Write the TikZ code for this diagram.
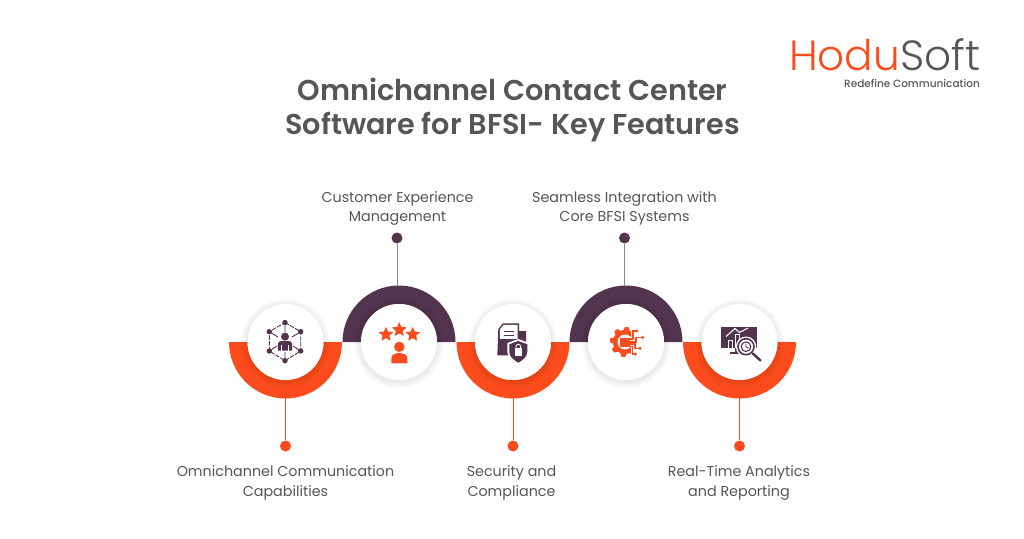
\documentclass[tikz,border=0pt]{standalone}
\usepackage{fontspec}
\setmainfont{Poppins}
\newfontfamily\titlefont{Poppins SemiBold}
\newfontfamily\logofont{Poppins Light}
\newfontfamily\labelfont{Poppins}
\newfontfamily\tagfont{Poppins Medium}
\definecolor{accent}{HTML}{FC4C1D}
\definecolor{plum}{HTML}{53344E}
\definecolor{ink}{HTML}{565656}
\tikzset{
  x=1pt,y=-1pt,
  title/.style={font=\titlefont\fontsize{28.7}{34}\selectfont,text=ink,align=center,inner sep=0},
  caption/.style={font=\labelfont\fontsize{14.3}{19.4}\selectfont,text=ink,align=center,inner sep=0},
  stem/.style={line width=1pt},
  dot/.style={circle,inner sep=0,minimum size=11pt},
  wire/.style={line width=0.9pt,draw=plum},
  trace/.style={line width=1.1pt,draw=accent},
}
% half ring: centre, direction of the bulge (-1 down, +1 up), colour
\newcommand{\halfring}[3]{%
  \fill[#3] (#1-56.5,342) arc[start angle=180,delta angle=#2*180,x radius=56.5,y radius=56.5]
     -- (#1+38,342) arc[start angle=0,delta angle=-#2*180,x radius=38,y radius=38] -- cycle;}
% white disc with a soft halo
\newcommand{\halodisc}[1]{%
  \foreach \r in {45,44,43,42,41,40,39}{\fill[black,opacity=.012] (#1,343.5) circle[radius=\r];}
  \fill[white] (#1,342) circle[radius=38];}
% five-pointed star: x, y, radius
\newcommand{\starmark}[3]{%
  \fill[accent] plot[samples at={0,...,9},variable=\k]
    ({#1+(mod(\k,2)==0?#3:0.48*#3)*sin(36*\k)},{#2-(mod(\k,2)==0?#3:0.48*#3)*cos(36*\k)}) -- cycle;}
\begin{document}
\begin{tikzpicture}
\useasboundingbox (0,0) rectangle (1024,538);
\fill[white] (0,0) rectangle (1024,538);

% logo
\node[anchor=base west,inner sep=0,font=\logofont\fontsize{42.2}{42}\selectfont] (logo) at (789,70)
  {\textcolor{accent}{Hodu}\textcolor{ink}{Soft}};
\node[anchor=base east,inner sep=0,font=\tagfont\fontsize{10.5}{12}\selectfont,text=ink] (tag) at (980,87) {Redefine Communication};

% heading
\node[title] (head) at (512.5,110.5) {Omnichannel Contact Center\\Software for BFSI- Key Features};

% rings
\halfring{285.5}{-1}{accent}
\halfring{399}{1}{plum}
\halfring{513}{-1}{accent}
\halfring{626}{1}{plum}
\halfring{739.5}{-1}{accent}

\halodisc{285.5}\halodisc{399}\halodisc{513}\halodisc{626}\halodisc{739.5}

% leaders
\node[dot,fill=accent] (d1) at (285.5,446) {};
\node[dot,fill=plum] (d2) at (397,238) {};
\node[dot,fill=accent] (d3) at (513,446) {};
\node[dot,fill=plum] (d4) at (624.5,238) {};
\node[dot,fill=accent] (d5) at (739.5,446) {};
\coordinate (r1) at (285.5,398);
\coordinate (r2) at (397,286);
\coordinate (r3) at (513,398);
\coordinate (r4) at (624.5,286);
\coordinate (r5) at (739.5,398);
\draw[stem,color=accent] (r1)--(d1);
\draw[stem,color=ink!70] (r2)--(d2);
\draw[stem,color=accent] (r3)--(d3);
\draw[stem,color=ink!70] (r4)--(d4);
\draw[stem,color=accent] (r5)--(d5);

% captions
\node[caption] (c1) at (285.5,483) {Omnichannel Communication\\Capabilities};
\node[caption] (c2) at (397.5,208.5) {Customer Experience\\Management};
\node[caption] (c3) at (511.5,483) {Security and\\Compliance};
\node[caption] (c4) at (624.5,208.5) {Seamless Integration with\\Core BFSI Systems};
\node[caption] (c5) at (739,483) {Real-Time Analytics\\and Reporting};

% icon: person in a network cube
\draw[wire,dash pattern=on 4.5pt off 1.2pt]
  (285,322.5)--(300.7,331.7)--(300.7,351)--(285,360.7)--(269.3,351)--(269.3,331.7)--cycle;
\draw[wire] (285,322.5)--(285,332) (285,352)--(285,360.7)
  (269.3,331.7)--(278,337) (300.7,331.7)--(292,337)
  (269.3,351)--(277,346) (300.7,351)--(293,346);
\fill[plum] (285,336.6) circle[radius=4];
\fill[plum] (277.8,350.5) -- (277.8,344) .. controls (277.8,341.5) and (280,341) .. (282,341)
  -- (288,341) .. controls (290,341) and (292.2,341.5) .. (292.2,344) -- (292.2,350.5) -- cycle;
\draw[white,line width=.6pt] (281.3,345)--(281.3,350.5) (288.7,345)--(288.7,350.5);
\foreach \px/\py in {285/322.5,300.7/331.7,300.7/351,285/360.7,269.3/351,269.3/331.7}
  \fill[plum] (\px,\py) circle[radius=2.7];

% icon: rated customer
\starmark{386}{334.5}{7.6}
\starmark{399.3}{329.8}{7.6}
\starmark{412.7}{334.5}{7.6}
\fill[accent] (399.3,346.8) circle[radius=5.2];
\fill[accent] (391.3,363.3) -- (391.3,359) .. controls (391.3,355) and (394,353.2) .. (397,353.2)
  -- (401.6,353.2) .. controls (404.6,353.2) and (407.3,355) .. (407.3,359) -- (407.3,363.3) -- cycle;

% icon: secured document
\fill[plum] (498.3,329) -- (503,323.3) -- (519,323.3) -- (519,331) -- (526,331) -- (526,355.3) -- (497.3,355.3) -- cycle;
\fill[white] (499.8,329.5) -- (503.6,324.8) -- (517.5,324.8) -- (517.5,338.8) -- (499.8,338.8) -- cycle;
\draw[plum,line width=1pt] (503.5,331.3)--(514,331.3) (503.5,335)--(514,335);
\fill[white] (507.4,343) -- (518.3,339) -- (529.2,343) -- (529.2,352) .. controls (529.2,358) and (523,362) .. (518.3,364.8)
  .. controls (513.6,362) and (507.4,358) .. (507.4,352) -- cycle;
\fill[plum] (509.3,344.3) -- (518.3,341) -- (527.3,344.3) -- (527.3,352) .. controls (527.3,357) and (522,360.5) .. (518.3,362.7)
  .. controls (514.6,360.5) and (509.3,357) .. (509.3,352) -- cycle;
\fill[white] (514.5,348.3) rectangle (522.1,355.5);
\draw[white,line width=.9pt] (516,348.5) -- (516,346.5) arc[start angle=180,delta angle=180,radius=2.3] -- (520.6,348.5);

% icon: gear with circuit traces
\fill[accent] plot[samples at={0,...,47},variable=\k]
  ({625+(mod(\k,6)<3?15:12)*cos(7.5*\k)},{342+(mod(\k,6)<3?15:12)*sin(7.5*\k)}) -- cycle;
\fill[white] (625,342) circle[radius=7.5];
\fill[white] (631,325) rectangle (642,359);
\fill[accent] (620.3,337.8) rectangle (630,347.4);
\draw[trace] (630,339)--(633,339)--(633,331)--(636.7,331);
\draw[trace] (628,332)--(631,332) (630,342)--(636,342)--(636,337.3)--(642.7,337.3);
\draw[trace] (630,344)--(635,344)--(635,348.3)--(640,348.3);
\draw[trace] (630,346.5)--(632.5,346.5)--(632.5,354)--(635,354);
\foreach \px/\py in {636.7/331,642.7/337.3,640/348.3,635.5/354}
  \fill[accent] (\px,\py) circle[radius=1.7];

% icon: analytics monitor with magnifier
\fill[plum] (720.5,326.5) rectangle (756.5,347.5);
\fill[plum] (735,347.5) rectangle (739,353);
\fill[plum] (729.5,352) rectangle (744,354);
\draw[white,line width=1pt] (728,347.5)--(728,340)--(732.8,340)--(732.8,347.5);
\draw[white,line width=1pt] (735,347.5)--(735,334)--(739.5,334)--(739.5,347.5);
\draw[white,line width=1.1pt] (726,336.5)--(735,328.5)--(739.5,332.5)--(748,328);
\fill[white] (746,346.7) circle[radius=10.2];
\draw[plum,line width=1.6pt] (746,346.7) circle[radius=8];
\draw[plum,line width=1.1pt] (746,346.7) circle[radius=4.8];
\draw[plum,line width=.8pt] (746,343.8)--(746,346.9)--(748.5,348.2);
\draw[plum,line width=2.4pt,line cap=round] (752.8,353.5)--(760.5,360.5);
\end{tikzpicture}
\end{document}
